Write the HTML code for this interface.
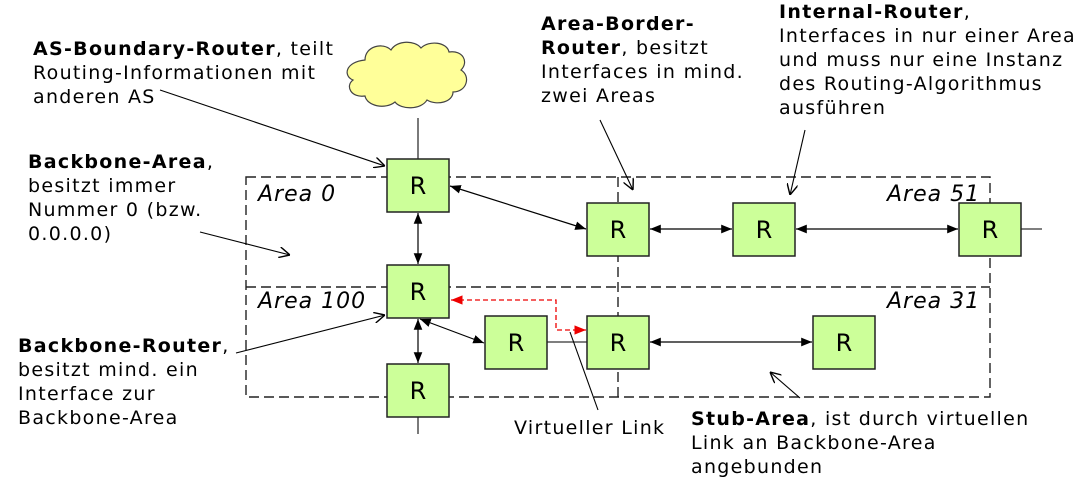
<!DOCTYPE html><html><head><style>body{margin:0;background:#fff}svg{display:block}text{font-family:"DejaVu Sans",sans-serif;font-size:19px;letter-spacing:1.3px;fill:#000}.b{font-weight:bold}text.a{font-style:italic;font-size:22px;letter-spacing:1px}.r text{font-size:24px;letter-spacing:0}</style></head><body>
<svg width="1087" height="504" viewBox="0 0 1087 504" xmlns="http://www.w3.org/2000/svg">
<defs><marker id="m" viewBox="0 0 10 10" refX="10" refY="5" markerWidth="9" markerHeight="9" orient="auto-start-reverse"><path d="M0,1L10,5L0,9z" fill="#000"/></marker>
<marker id="mr" viewBox="0 0 10 10" refX="10" refY="5" markerWidth="9" markerHeight="9" orient="auto-start-reverse"><path d="M0,1L10,5L0,9z" fill="#e00"/></marker>
<marker id="o" viewBox="0 0 10 10" refX="10" refY="5" markerWidth="10" markerHeight="10" orient="auto"><path d="M0,0L10,5L0,10" fill="none" stroke="#000" stroke-width="1.3"/></marker></defs>
<g fill="none" stroke="#222" stroke-width="1.4" stroke-dasharray="10,5">
<path d="M246,177H990V397H246Z"/><path d="M246,287H990"/><path d="M618,177V397"/></g>
<path d="M365,60c0-14 18-18 26-10c6-10 24-10 30-2c8-8 26-6 28 4c14-2 20 10 12 18c10 6 6 22-8 22c0 10-16 14-26 8c-6 10-26 10-32 2c-10 8-28 4-30-6c-14 2-20-10-12-16c-10-4-8-18 12-20z" fill="#ffff99" stroke="#444" stroke-width="1.2"/>
<g stroke="#333" stroke-width="1.3"><path d="M418,118V159M418,417V434M1021,229H1042M547,342H587"/></g>
<g stroke="#000" stroke-width="1.2" fill="none" marker-start="url(#m)" marker-end="url(#m)">
<path d="M450,186L586,229"/><path d="M418,213V264"/><path d="M418,319V363"/><path d="M420,319L484,343"/><path d="M650,229H732"/><path d="M796,229H958"/><path d="M650,342H812"/></g>
<path d="M586,330H556V300H451" stroke="#e00" stroke-width="1.3" stroke-dasharray="5,3" fill="none" marker-start="url(#mr)" marker-end="url(#mr)"/>
<g fill="#ccff99" stroke="#222" stroke-width="1.5">
<rect x="387" y="159" width="62" height="53"/><rect x="387" y="265" width="62" height="53"/><rect x="387" y="364" width="62" height="53"/><rect x="485" y="316" width="62" height="53"/><rect x="587" y="316" width="62" height="53"/><rect x="587" y="203" width="62" height="53"/><rect x="733" y="203" width="62" height="53"/><rect x="959" y="203" width="62" height="53"/><rect x="813" y="316" width="62" height="53"/></g>
<g class="r" text-anchor="middle"><text x="418" y="194">R</text><text x="418" y="300">R</text><text x="418" y="399">R</text><text x="516" y="351">R</text><text x="618" y="351">R</text><text x="618" y="238">R</text><text x="764" y="238">R</text><text x="990" y="238">R</text><text x="844" y="351">R</text></g>
<text class="a" x="258" y="201">Area 0</text><text class="a" x="258" y="308">Area 100</text><text class="a" x="887" y="201">Area 51</text><text class="a" x="887" y="308">Area 31</text>
<g stroke="#000" stroke-width="1.1" fill="none" marker-end="url(#o)">
<path d="M160,90L385,166"/><path d="M200,232L290,255"/><path d="M236,353L385,315"/><path d="M600,120L633,190"/><path d="M805,130L790,195"/><path d="M800,398L770,372"/></g>
<path d="M570,332L598,410" stroke="#000" stroke-width="1.1"/>
<text x="33" y="55"><tspan class="b">AS-Boundary-Router</tspan>, teilt</text><text x="33" y="79">Routing-Informationen mit</text><text x="33" y="103">anderen AS</text>
<text x="28" y="168"><tspan class="b">Backbone-Area</tspan>,</text><text x="28" y="192">besitzt immer</text><text x="28" y="216">Nummer 0 (bzw.</text><text x="28" y="240">0.0.0.0)</text>
<text x="18" y="352"><tspan class="b">Backbone-Router</tspan>,</text><text x="18" y="376">besitzt mind. ein</text><text x="18" y="400">Interface zur</text><text x="18" y="424">Backbone-Area</text>
<text class="b" x="541" y="30">Area-Border-</text><text x="541" y="54"><tspan class="b">Router</tspan>, besitzt</text><text x="541" y="78">Interfaces in mind.</text><text x="541" y="102">zwei Areas</text>
<text x="779" y="18"><tspan class="b">Internal-Router</tspan>,</text><text x="779" y="42">Interfaces in nur einer Area</text><text x="779" y="66">und muss nur eine Instanz</text><text x="779" y="90">des Routing-Algorithmus</text><text x="779" y="114">ausführen</text>
<text x="514" y="434">Virtueller Link</text>
<text x="691" y="425"><tspan class="b">Stub-Area</tspan>, ist durch virtuellen</text><text x="691" y="449">Link an Backbone-Area</text><text x="691" y="473">angebunden</text>
</svg></body></html>
